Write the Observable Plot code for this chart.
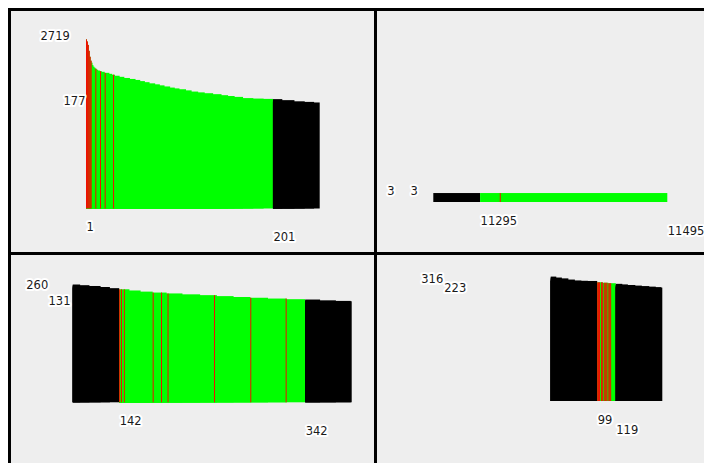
<!DOCTYPE html>
<html>
<head>
<meta charset="utf-8">
<script src="https://cdn.jsdelivr.net/npm/d3@7"></script>
<script src="https://cdn.jsdelivr.net/npm/@observablehq/plot@0.6"></script>
<style>
  html, body { margin: 0; padding: 0; background: #ffffff; }
  #grid {
    position: absolute; left: 8px; top: 8px;
    display: grid;
    grid-template-columns: 363px 327px;
    grid-template-rows: 241px 208px;
    gap: 3px; padding: 3px 0 0 3px;
    background: #000000;
  }
  .cell { background: #eeeeee; position: relative; overflow: hidden; }
  .cell svg { display: block; }
</style>
</head>
<body>
<div id="grid">
  <div class="cell" id="p1"></div>
  <div class="cell" id="p2"></div>
  <div class="cell" id="p3"></div>
  <div class="cell" id="p4"></div>
</div>
<script>
// Ranked counts, one window per panel. Each profile is a step list:
// a value holds from its rank until the next listed rank.

// Panel 1: ranks 1–250, highlighted ranks 1–200
const p1Window = [1, 250];
const p1Highlight = [1, 200];
const p1Rank  = [1, 2, 3, 4, 5, 6, 7, 8, 9, 10, 11, 12, 13, 14, 16, 18, 21, 26, 29, 32, 37, 42, 48, 54, 59, 64, 69, 75, 80, 85, 91, 96, 101, 108, 114, 121, 128, 137, 146, 153, 160, 169, 180, 191, 201, 211, 224, 235, 245];
const p1Value = [2719, 2462, 2103, 1606, 1225, 1024, 935, 836, 781, 747, 714, 692, 674, 653, 633, 616, 588, 562, 540, 515, 490, 465, 445, 425, 403, 384, 364, 348, 332, 316, 300, 289, 278, 264, 250, 241, 232, 222, 212, 204, 196, 185, 181, 179, 177, 169, 160, 156, 152];
const p1Red   = [1, 2, 3, 4, 5, 6, 11, 16, 21, 30];

// Panel 2: ranks 11245–11494, highlighted ranks 11295–11494
const p2Window = [11245, 11494];
const p2Highlight = [11295, 11494];
const p2Rank  = [11245];
const p2Value = [3];
const p2Red   = [11316];

// Panel 3: ranks 92–391, highlighted ranks 142–341
const p3Window = [92, 391];
const p3Highlight = [142, 341];
const p3Rank  = [92, 100, 110, 122, 132, 142, 153, 165, 178, 193, 210, 229, 247, 265, 283, 302, 322, 342, 358, 375, 391];
const p3Value = [260, 252, 243, 232, 220, 209, 198, 188, 180, 173, 166, 160, 153, 147, 142, 137, 133, 131, 126, 123, 121];
const p3Red   = [142, 144, 147, 178, 187, 194, 244, 283, 321];

// Panel 4: ranks 49–168, highlighted ranks 99–118
const p4Window = [49, 168];
const p4Highlight = [99, 118];
const p4Rank  = [49, 55, 61, 68, 75, 82, 89, 99, 105, 111, 119, 126, 132, 140, 147, 155, 162, 168];
const p4Value = [316, 302, 290, 274, 261, 258, 256, 240, 235, 230, 223, 217, 211, 205, 200, 195, 190, 186];
const p4Red   = [99, 100, 101, 103, 104, 106, 107, 108, 109, 111, 112, 113];

const yMax = p1Value[0];
const COLORS = {context: "#000000", highlight: "#00ff00", flagged: "#ff0000"};

// Layout of each panel: pixel ranges for the scales and label offsets.
const panels = [
  {id: "p1", width: 363, height: 241, win: p1Window, hl: p1Highlight, rank: p1Rank, value: p1Value, red: p1Red,
   floor: 1.2, xRange: [75, 308.7], base: 197.5, yDx: [-16.7, -1], yDy: [-3.6, 1.6]},
  {id: "p2", width: 327, height: 241, win: p2Window, hl: p2Highlight, rank: p2Rank, value: p2Value, red: p2Red,
   floor: 2.05, xRange: [56.3, 290.3], base: 191, yDx: [-39.3, -16], yDy: [-2.3, -2.3]},
  {id: "p3", width: 363, height: 208, win: p3Window, hl: p3Highlight, rank: p3Rank, value: p3Value, red: p3Red,
   floor: 1.2, xRange: [61.7, 340.7], base: 147.3, yDx: [-25, -2.7], yDy: [0, 1]},
  {id: "p4", width: 327, height: 208, win: p4Window, hl: p4Highlight, rank: p4Rank, value: p4Value, red: p4Red,
   floor: 0.8, xRange: [173.7, 285.3], base: 146, yDx: [-108, -85], yDy: [2.1, 3.5]}
];
const yLength = 169.2;

function stepValue(ranks, values, r) {
  let v = values[0];
  for (let i = 0; i < ranks.length; i++) if (ranks[i] <= r) v = values[i];
  return v;
}

function draw(p) {
  const [w0, w1] = p.win, [h0, h1] = p.hl;
  const at = r => stepValue(p.rank, p.value, r);
  const segment = r => r < h0 ? [w0, COLORS.context] : r <= h1 ? [h0, COLORS.highlight] : [h1 + 1, COLORS.context];

  const edges = Array.from(new Set([...p.rank, w0, h0, h1 + 1, w1 + 1]))
    .filter(r => r >= w0 && r <= w1 + 1).sort((a, b) => a - b);
  // Each run is filled from the start of its colour segment, so the union of
  // runs forms the descending silhouette without gaps between runs.
  const runs = edges.slice(0, -1).map((r, i) => {
    const [s, c] = segment(r);
    return {x1: s, x2: edges[i + 1], v: at(r), c};
  });
  const flagged = p.red.map(r => ({x1: r, x2: r + 1, v: at(r), c: COLORS.flagged}));

  const yLabels = [w0, h1 + 1].map((r, i) => ({x: w0, y: at(r), t: String(at(r)), dx: p.yDx[i], dy: p.yDy[i]}));
  const xLabels = [h0, h1 + 1].map((r, i) => ({x: r, y: p.floor, t: String(r), dy: i === 0 ? 18.5 : 28.5}));

  const textStyle = {fontFamily: "DejaVu Sans", fontSize: 11.5, fill: "#1a1a1a", stroke: "#ffffff", strokeWidth: 4, strokeLinejoin: "round"};

  const chart = Plot.plot({
    width: p.width, height: p.height, margin: 0,
    style: {background: "transparent", overflow: "visible"},
    x: {domain: [w0, w1 + 1], range: p.xRange, axis: null},
    y: {type: "log", domain: [p.floor, yMax], range: [p.base, p.base - yLength], axis: null},
    color: {type: "identity"},
    marks: [
      Plot.rectY(runs, {x1: "x1", x2: "x2", y1: p.floor, y2: "v", fill: "c", inset: 0}),
      Plot.rectY(flagged, {x1: "x1", x2: "x2", y1: p.floor, y2: "v", fill: "c", inset: 0}),
      ...yLabels.map(d => Plot.text([d], {x: "x", y: "y", text: "t", textAnchor: "end", dx: d.dx, dy: d.dy, ...textStyle})),
      ...xLabels.map(d => Plot.text([d], {x: "x", y: "y", text: "t", textAnchor: "start", dy: d.dy, ...textStyle}))
    ]
  });
  document.getElementById(p.id).appendChild(chart);
}

panels.forEach(draw);
</script>
</body>
</html>
